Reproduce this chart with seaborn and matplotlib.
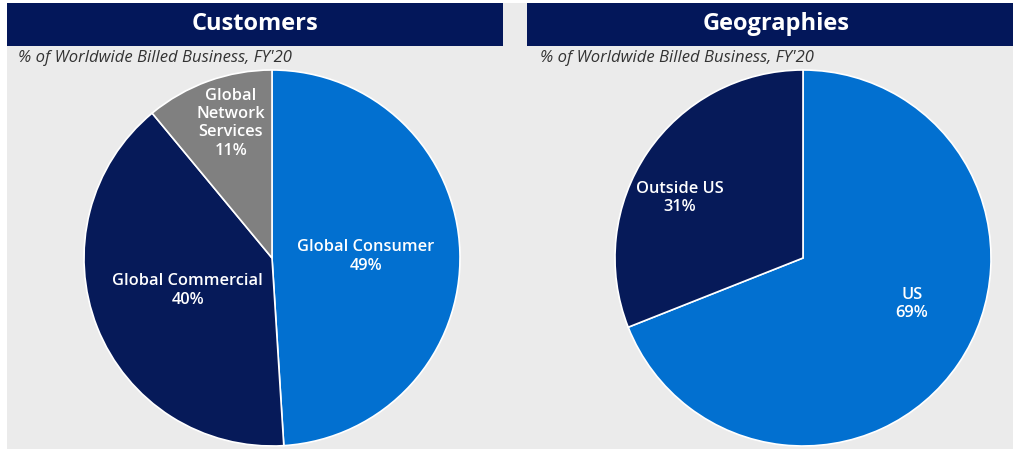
import matplotlib
matplotlib.use("Agg")
import matplotlib.pyplot as plt
import seaborn as sns
import numpy as np
from matplotlib.patches import Rectangle

# ---- data ----
titles = ["Customers", "Geographies"]
subtitle = "% of Worldwide Billed Business, FY'20"
cust_labels = ["Global Consumer", "Global Commercial", "Global\nNetwork\nServices"]
cust_values = [49, 40, 11]
geo_labels = ["US", "Outside US"]
geo_values = [69, 31]

# ---- style ----
BLUE = "#0270d0"
NAVY = "#061a59"
GRAY = "#808080"
HEADER = "#03175a"
PANEL = "#ebebeb"

sns.set_theme(style="white")
plt.rcParams['font.family'] = ['Open Sans', 'DejaVu Sans']

W, H = 1013, 449
fig = plt.figure(figsize=(W / 100, H / 100), dpi=100, facecolor='white')


def fx(px):
    return px / W


def fy(py):
    return 1 - py / H


# background panel
fig.patches.append(Rectangle((fx(7), 0), 1 - fx(7), fy(3), transform=fig.transFigure,
                             facecolor=PANEL, edgecolor='none', zorder=-2))
# header bars
for (x0, x1), title, tx in zip([(7, 503), (527, 1013)], titles, [255, 776]):
    fig.patches.append(Rectangle((fx(x0), fy(46)), fx(x1 - x0), (46 - 3) / H,
                                 transform=fig.transFigure, facecolor=HEADER,
                                 edgecolor='none', zorder=-1))
    fig.text(fx(tx), fy(24), title, ha='center', va='center', color='white',
             fontsize=17, fontweight='bold', zorder=2)

for sx in [18, 540]:
    fig.text(fx(sx), fy(58), subtitle, ha='left', va='center', color='#333333',
             fontsize=12, style='italic', zorder=2)

R = 188


def make_pie(cx, cy, values, labels, colors, label_pos):
    ax = fig.add_axes([fx(cx - R), fy(cy + R), 2 * R / W, 2 * R / H])
    ax.set_zorder(3)
    ax.patch.set_visible(False)
    ax.pie(values, colors=colors, startangle=90, counterclock=False, radius=1,
           wedgeprops=dict(edgecolor='white', linewidth=1.2))
    ax.set_xlim(-1, 1)
    ax.set_ylim(-1, 1)
    ax.axis('off')
    for lab, v, (d, ang) in zip(labels, values, label_pos):
        a = np.deg2rad(ang)
        ax.text(d * np.cos(a), d * np.sin(a), f"{lab}\n{v}%", ha='center', va='center',
                color='white', fontsize=11.8, fontweight='semibold', linespacing=1.2)
    return ax


make_pie(272, 258, cust_values, cust_labels, [BLUE, NAVY, GRAY],
         [(0.5, 1), (0.48, -159), (0.75, 107)])
make_pie(803, 258, geo_values, geo_labels, [BLUE, NAVY],
         [(0.63, -23), (0.73, 154)])

fig.savefig("out.png", dpi=100, facecolor='white')
